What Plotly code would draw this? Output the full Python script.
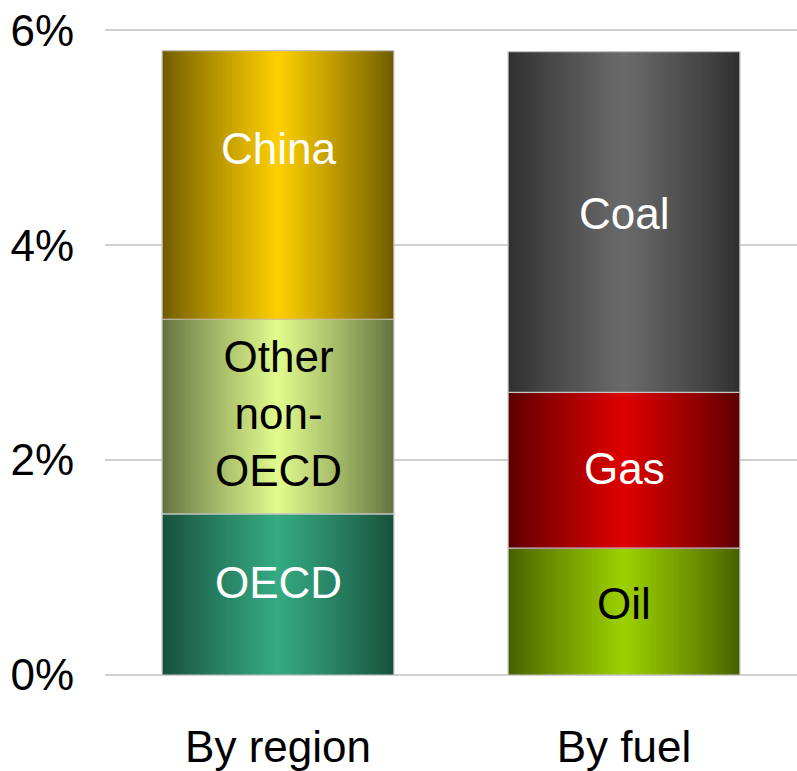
import plotly.graph_objects as go

categories = ["By region", "By fuel"]
region_labels = ["OECD", "Other<br>non-<br>OECD", "China"]
region_values = [1.50, 1.81, 2.50]
fuel_labels = ["Oil", "Gas", "Coal"]
fuel_values = [1.18, 1.45, 3.17]
y_ticks = [0, 2, 4, 6]
y_tick_text = ["0%", "2%", "4%", "6%"]

# style: (edge colour, centre colour, text colour, label shift px)
region_style = [((25, 80, 60), (52, 170, 130), "white", 12),
                ((100, 115, 65), (224, 250, 140), "black", 3),
                ((112, 92, 0), (252, 206, 0), "white", 36)]
fuel_style = [((72, 96, 0), (156, 208, 0), "black", 8),
              ((92, 0, 0), (222, 0, 0), "white", 2),
              ((48, 48, 48), (106, 106, 106), "white", 8)]

W = 0.67
N = 40
FONT = "Liberation Sans"

fig = go.Figure()
annotations = []


def add_stack(xcat, values, labels, styles):
    base = 0.0
    for v, lab, (edge, centre, tcol, shift) in zip(values, labels, styles):
        for k in range(N):
            t = k / (N - 1)
            f = t ** 0.9
            col = tuple(int(round(edge[i] + (centre[i] - edge[i]) * f)) for i in range(3))
            fig.add_trace(go.Bar(
                x=[xcat], y=[v], base=[base], width=[W * (1 - k / N)],
                marker=dict(color="rgb(%d,%d,%d)" % col, line=dict(width=0)),
                showlegend=False, hoverinfo="skip"))
        fig.add_trace(go.Bar(
            x=[xcat], y=[v], base=[base], width=[W],
            marker=dict(color="rgba(0,0,0,0)", line=dict(color="#c4c4c4", width=1.2)),
            showlegend=False, hoverinfo="skip"))
        annotations.append(dict(
            x=xcat, y=base + v / 2, text=lab, showarrow=False, yshift=shift,
            font=dict(family=FONT, size=44, color=tcol), xref="x", yref="y"))
        base += v


add_stack(categories[0], region_values, region_labels, region_style)
add_stack(categories[1], fuel_values, fuel_labels, fuel_style)

fig.update_layout(
    barmode="overlay",
    width=797, height=771,
    margin=dict(l=105, r=0, t=28, b=96),
    plot_bgcolor="white", paper_bgcolor="white",
    annotations=annotations,
    font=dict(family=FONT, size=44, color="black"),
    xaxis=dict(type="category", range=[-0.5, 1.5], showgrid=False, showline=False,
               ticks="", tickfont=dict(size=44), ticklabelstandoff=42, automargin=False),
    yaxis=dict(range=[0, 6.02], tickvals=y_ticks, ticktext=y_tick_text, showgrid=True,
               gridcolor="#d0d0d0", gridwidth=2, zeroline=True, zerolinecolor="#d0d0d0",
               zerolinewidth=2, showline=False, layer="below traces",
               ticks="", tickfont=dict(size=44), ticklabelstandoff=30, automargin=False),
)

fig.write_html("out.html", config={"displayModeBar": False},
               post_script="document.body.style.margin='0px';document.body.style.overflow='hidden';")
